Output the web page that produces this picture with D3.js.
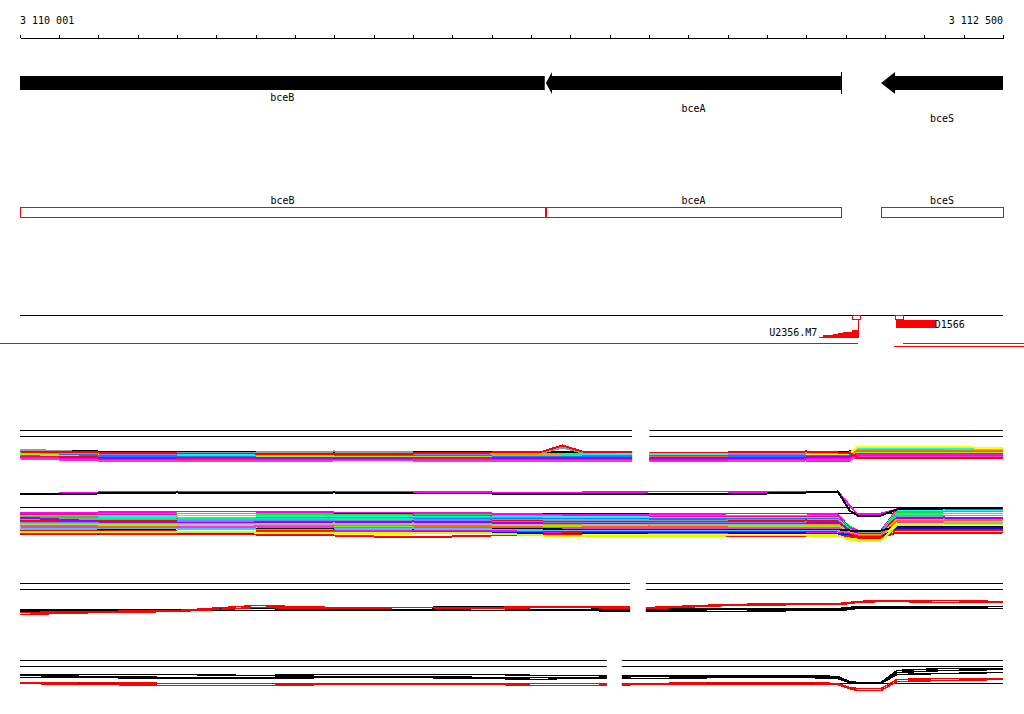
<!DOCTYPE html>
<html>
<head>
<meta charset="utf-8">
<script src="https://cdn.jsdelivr.net/npm/d3@7"></script>
<style>
  body { margin: 0; background: #fff; }
  svg { display: block; }
  text { font-family: "DejaVu Sans Mono", monospace; font-size: 10px; fill: #000; }
</style>
</head>
<body>
<div id="chart"></div>
<script>
// region on the chromosome
const regionStart = 3110001, regionEnd = 3112500;
const tickValues = d3.range(3110000, 3112501, 100);
const endLabels = ["3 110 001", "3 112 500"];

// genes (all on minus strand)
const geneNames = ["bceB", "bceA", "bceS"];
const geneStarts = [3110001, 3111338, 3112190];
const geneEnds = [3111335, 3112088, 3112500];
const geneEndInView = [false, true, false];

// probes
const probeNames = ["U2356.M7", "D1566"];
const probeStarts = [3112116, 3112225];
const probeEnds = [3112136, 3112245];
const rampStarts = [3112033, 3112043, 3112069, 3112081, 3112094, 3112117];
const rampEnd = 3112132;
const rampLevels = [1, 2, 3, 4, 5, 6];
const blockStart = 3112227, blockEnd = 3112329;
const targetStarts = [3109950, 3112245, 3112222];
const targetEnds = [3112132, 3112560, 3112560];

// expression profiles, sampled positions
const positions = [3110001, 3110200, 3110400, 3110600, 3110800, 3111000, 3111200, 3111330, 3111380, 3111430,
  3111600, 3111800, 3112000, 3112080, 3112110, 3112130, 3112190, 3112230, 3112350, 3112500];
const refLevels = [16, 13];
const panelGaps = [[3111557, 3111601], null, [3111552, 3111592], [3111493, 3111531]];

// panel 1
const p1Black = [6,5.5,5.5,5.5,5.5,5.5,5.5,5.5,5.5,5.5,5,5,5,5.5,5.5,6.5,6.5,6.5,6.5,6.5];
const p1Gray = [6.5,5,5,5,5.5,5,5,5,7.5,5,5,5,5,5,5,7,7,7,7,6.5];
const p1Spring = [5,4.5,4.5,4.5,4.5,4.5,4.5,4.5,4.5,4.5,4.5,4.5,4.5,4.5,4.5,7,7,7,7,7];
const p1Green = [4.5,4.5,4,4,4,4,4,3.5,3.5,3.5,4,4,4,3.5,3.5,6,6,6,6,5.5];
const p1Cyan = [3.5,4,4,3.5,3.5,4,3.5,3.5,3.5,3.5,4.5,4,4,4,4,7.5,7.5,7.5,7,6.5];
const p1Lilac = [4,4,3.5,3.5,3.5,4,4,3.5,3.5,3.5,3.5,3.5,4,4,4,5.5,5.5,5.5,5.5,5.5];
const p1Yellow = [3,3.5,3,3,3.5,3.5,3,3,3,3,3,3,3.5,4,4,8,8,8,8,7];
const p1Orange = [3.5,3,3.5,3.5,4,3.5,3.5,4,3.5,3.5,3.5,3,3,3.5,3.5,5.5,5.5,5.5,5,5];
const p1Orange2 = [3.5,3,3,3,3,3,3,3,3,3,3,3,3,3,3,6,6,6,6,5.5];
const p1Blue = [4,3.5,3,3,3,3.5,3,3,3,3,3.5,3.5,3.5,3.5,3.5,4.5,4.5,4.5,4.5,4.5];
const p1Lime = [4.5,2.5,2.5,2.5,3,3,2.5,2.5,2.5,2.5,2.5,2.5,2.5,3,3,5,5,5,5,5];
const p1Red2 = [3,2.5,2.5,2,2.5,2.5,2,2,2,2,2,2,2,2.5,2.5,2.5,2.5,2.5,2.5,2.5];
const p1Rose = [3,2,2,2,2,2,2,2,2,2,2,2,2,2.5,2.5,4.5,4.5,4.5,4.5,4];
const p1Purple = [2.5,2,2.5,2.5,2,2.5,2.5,2.5,2.5,2.5,2.5,2,2.5,3,3,4,4,4,4,4];
const p1Magenta = [2.5,1.5,1.5,1.5,1.5,1,1.5,1,1.5,1.5,1,1.5,1.5,2,2,3.5,3.5,3.5,3.5,3.5];
const p1Magenta2 = [2,1.5,1.5,1,1.5,1.5,1.5,1.5,1.5,1.5,1.5,1,1,1,1,4,4,4,4,4];
const p1Pink = [2,1,1,0.5,1,1,1,0.5,1,1,0.5,0.5,1,1.5,1.5,3,3,3,3,3];
const p1Red = [5.5,5,4.5,4.5,4.5,4.5,5,5.5,8.5,5.5,5,5,5.5,5,5,2.5,2.5,2.5,2.5,2.5];

// panel 2
const p2Black = [22.5,23,23.5,23,23.5,23,23,23,23,23,23,22.5,23.5,24,14.5,12,12,15,15.5,16];
const p2MagentaTop = [22.5,23.5,24,24,24,24,23.5,23.5,23.5,23.5,24,24,23.5,24,17,12.5,13,15,15.5,16];
const p2Green = [13.5,13.5,13,13,12.5,12.5,12,12,12,11.5,12,12,12,11.5,6.5,4.5,4,13.5,14,14.5];
const p2Magenta = [13,13.5,14,14,13.5,13.5,13,12.5,12.5,12.5,12.5,13,13,12.5,6,4.5,4.5,14.5,15,15];
const p2Rose = [12.5,12.5,12,12,11.5,12,11.5,11.5,11.5,11,11.5,11.5,11.5,11.5,6,4,4,15,15.5,15.5];
const p2Cyan = [12,11.5,12,12,12,11.5,11.5,11,11.5,11.5,11,11,11,11,5.5,4,4,14,14.5,14];
const p2Green3 = [11.5,11,10.5,10,10,10.5,11,10.5,10.5,10.5,10.5,10,10,10,5.5,4,3.5,13.5,14,14];
const p2Blue = [9.5,10.5,10.5,11,11,10.5,10.5,10.5,10.5,10.5,10,10.5,10.5,10.5,5.5,3.5,4,12.5,13,13];
const p2Spring = [10,10.5,11,10.5,10.5,10,9.5,9.5,10,10,9.5,9.5,9.5,10,5,3.5,3.5,12.5,13,13];
const p2Gray = [10.5,10,10,10,9.5,9.5,10,9.5,9.5,9.5,9.5,9,9,9.5,4.5,3,3.5,11.5,12,12];
const p2Red = [9,9.5,9.5,9,9,9,9.5,9,9,9,9,9,9.5,9,4.5,2.5,3,11,11,11];
const p2Lilac = [8.5,8.5,9,9.5,9.5,9.5,9,8.5,8.5,8.5,8.5,8.5,8.5,8,4,2.5,2.5,11,10.5,11];
const p2Purple = [11,9,8.5,8.5,8.5,9,8.5,8,8,8,8,8,8,8.5,4,3,3,10.5,11,10.5];
const p2Orange = [8,8,8,7.5,7.5,8,7.5,7.5,7.5,7.5,7,7,7.5,7.5,3.5,2.5,2.5,10,10,9.5];
const p2Gray2 = [6,7,7.5,7.5,8,7.5,7.5,7,7,7,7.5,7.5,7,7,3.5,2,2,9.5,8.5,8.5];
const p2Lime = [7.5,7.5,7,7,6.5,6.5,7,6.5,6.5,6.5,6.5,6.5,6.5,6.5,2.5,1.5,1.5,9.5,9,9];
const p2Orange2 = [7,6.5,6.5,6.5,7,7,6.5,6,6,6,6.5,6,6,6,3,2,2,9,9.5,10];
const p2Pink = [6.5,6,6,6.5,6,6,6,5.5,5.5,6,6,5.5,5.5,5.5,3,2,2,8.5,8,8];
const p2Black2 = [5.5,5,5.5,5.5,5,5,5.5,5.5,5,5,5,5,5,5,4.5,4,4.5,6.5,6.5,6.5];
const p2Sky = [5,5.5,5.5,5,5,5.5,5,4.5,4.5,4.5,4.5,4.5,4.5,4.5,2,1,1,8,8,7.5];
const p2Red2 = [4.5,4.5,4,4,4.5,4,4,4,3.5,4,4,4,4,3.5,2.5,1.5,1.5,5,5,4.5];
const p2Magenta2 = [4,3.5,3.5,4,4,4.5,4.5,3.5,3,3,3,3,3,3.5,1.5,0.5,0.5,6,5.5,6];
const p2Yellow = [3.5,3.5,3.5,3,2.5,3,3,3,2.5,2.5,2.5,2.5,2.5,3,1,0.5,0.5,8,7.5,7.5];
const p2Blue2 = [3,2.5,3,3.5,3.5,3.5,3.5,3,3,3,3.5,3.5,3,3,2,1,1,6,6,5.5];
const p2Red3 = [2.5,3,2.5,2.5,2,1,2,2.5,2.5,2,2,2,2,2,1.5,1,1,3.5,3,3.5];
const p2Chartreuse = [4,4,4,3.5,3.5,3.5,3,2,2,2,1.5,2,2,2,0,-0.5,-0.5,7,7.5,7.5];

// panel 3
const p3Black1 = [3,3,3,3.5,3.5,4,4.5,4.5,4,4,3,3.5,3.5,3.5,4,4.5,4.5,4.5,4.5,4.5];
const p3Black2 = [2.5,2.5,2.5,2.5,3,3,3.5,3,3,3,2.5,3,3,3,3.5,4,4,4,4,3.5];
const p3Black3 = [2,2,2.5,2.5,2.5,2.5,2.5,2.5,2.5,2.5,2,2,2.5,2.5,3,3.5,3.5,3.5,3.5,3.5];
const p3Red1 = [1.5,2,2.5,5,4,4,4,4.5,4.5,4.5,4,5.5,6,6,6.5,7,7.5,7.5,7.5,7];
const p3Red2 = [0.5,1.5,2,4,3.5,4,3.5,4,4,4,3.5,5,5.5,5.5,6,6.5,7,7,6.5,6.5];

// panel 4
const p4Black1 = [9,9,9,8.5,9,9,9,8.5,8.5,8.5,8.5,8.5,8.5,8,5.5,5,5,11,12,12];
const p4Black2 = [8.5,8,7.5,7.5,8,8,7.5,7.5,7.5,7.5,8,8,8,7.5,5,4.5,4.5,10,11,11.5];
const p4Black3 = [7.5,7.5,7,7,7.5,7.5,7,6.5,7,7,7,7.5,7.5,7,5,4.5,4.5,9,9.5,10];
const p4Black4 = [4.5,4.5,4.5,4.5,4.5,4.5,4.5,4.5,4.5,4.5,4.5,4.5,4.5,4.5,4.5,4.5,4.5,4.5,4.5,4.5];
const p4Red1 = [5,5,4.5,4.5,4.5,4.5,4.5,4.5,4.5,4.5,4.5,5,5,4.5,2.5,2,2,6.5,7,7];
const p4Red2 = [4.5,4,3.5,3.5,4,4,4,3.5,3.5,3.5,4,4,4,4,2,1,1,5.5,6,6.5];

const panels = [
  [["black", p1Black], ["gray", p1Gray], ["spring", p1Spring], ["green", p1Green], ["cyan", p1Cyan],
   ["lilac", p1Lilac], ["yellow", p1Yellow], ["orange", p1Orange], ["orange2", p1Orange2], ["blue", p1Blue],
   ["lime", p1Lime], ["red", p1Red2], ["rose", p1Rose], ["purple", p1Purple], ["magenta", p1Magenta],
   ["magenta", p1Magenta2], ["pink", p1Pink], ["red", p1Red]],
  [["green", p2Green], ["magenta", p2Magenta], ["rose", p2Rose], ["cyan", p2Cyan], ["green3", p2Green3],
   ["blue", p2Blue], ["spring", p2Spring], ["gray", p2Gray], ["red", p2Red], ["lilac", p2Lilac],
   ["purple", p2Purple], ["orange", p2Orange], ["gray2", p2Gray2], ["lime", p2Lime], ["orange2", p2Orange2],
   ["pink", p2Pink], ["black", p2Black2], ["sky", p2Sky], ["red", p2Red2], ["magenta", p2Magenta2],
   ["yellow", p2Yellow], ["blue2", p2Blue2], ["red", p2Red3], ["chartreuse", p2Chartreuse],
   ["magenta", p2MagentaTop], ["black", p2Black]],
  [["black", p3Black1], ["black", p3Black2], ["black", p3Black3], ["red", p3Red1], ["red", p3Red2]],
  [["black", p4Black4], ["black", p4Black1], ["black", p4Black2], ["black", p4Black3], ["red", p4Red1], ["red", p4Red2]]
];

const palette = {
  black: "#000000", gray: "#999999", gray2: "#b3b3b3", green: "#00ff00", green3: "#33cc33", spring: "#00ff80",
  cyan: "#00ffff", sky: "#33ccff", yellow: "#ffff00", orange: "#ff9900", orange2: "#ff6600",
  blue: "#0080ff", blue2: "#0000ff", lilac: "#8080ff", lime: "#80ff00", red: "#ff0000", rose: "#ff0080",
  purple: "#9900ff", magenta: "#ff00ff", pink: "#ff33cc", chartreuse: "#ccff00"
};

const width = 1024, height = 714;
const panelTop = [430, 507, 583, 660];
const panelStroke = [2, 2, 1.5, 1.5];

const svg = d3.select("#chart").append("svg")
  .attr("width", width)
  .attr("height", height);

const x = d3.scaleLinear().domain([regionStart, regionEnd]).range([20, 1003]);

// ---- ruler
const ruler = svg.append("g").attr("transform", "translate(0,38)");
ruler.call(d3.axisBottom(x).tickValues(tickValues).tickSize(3).tickSizeOuter(0).tickFormat(""));
ruler.call(d3.axisTop(x).tickValues(tickValues).tickSize(3).tickSizeOuter(0).tickFormat(""));
ruler.selectAll("path, line").attr("stroke", "#000").attr("shape-rendering", "crispEdges");

svg.append("text").attr("x", x(regionStart)).attr("y", 24).text(endLabels[0]);
svg.append("text").attr("x", x(regionEnd)).attr("y", 24).attr("text-anchor", "end").text(endLabels[1]);

// ---- gene arrows
const barH = 14, headH = 22, barTop = 76;
geneNames.forEach((name, i) => {
  const x0 = x(geneStarts[i]), x1 = x(geneEnds[i]);
  const mid = barTop + barH / 2;
  // a head squeezed against the previous gene is drawn short
  const prevEnd = i > 0 ? x(geneEnds[i - 1]) : -Infinity;
  const headL = x0 - prevEnd < 10 ? 6 : 14;
  let pts;
  if (geneStarts[i] > regionStart) {
    pts = [[x0, mid], [x0 + headL, mid - headH / 2], [x0 + headL, barTop], [x1, barTop],
      [x1, barTop + barH], [x0 + headL, barTop + barH], [x0 + headL, mid + headH / 2]];
  } else {
    pts = [[x0, barTop], [x1, barTop], [x1, barTop + barH], [x0, barTop + barH]];
  }
  svg.append("path").attr("d", d3.line()(pts) + "Z").attr("fill", "#000");
  if (geneEndInView[i]) {
    svg.append("line").attr("x1", Math.round(x1) + 0.5).attr("x2", Math.round(x1) + 0.5)
      .attr("y1", mid - headH / 2).attr("y2", mid + headH / 2)
      .attr("stroke", "#000").attr("shape-rendering", "crispEdges");
  }
  svg.append("text").attr("x", (x0 + x1) / 2).attr("y", 101 + i * 10.5)
    .attr("text-anchor", "middle").text(name);
});

// ---- gene boxes
geneNames.forEach((name, i) => {
  const x0 = Math.round(x(geneStarts[i])), x1 = Math.round(x(geneEnds[i]));
  svg.append("rect").attr("x", x0 + 0.5).attr("y", 207.5).attr("width", x1 - x0).attr("height", 10)
    .attr("fill", "none").attr("stroke", "#ff0000").attr("shape-rendering", "crispEdges");
  svg.append("text").attr("x", (x0 + x1) / 2).attr("y", 204).attr("text-anchor", "middle").text(name);
});

// ---- probe track
svg.append("line").attr("x1", x(regionStart)).attr("x2", x(regionEnd)).attr("y1", 315.5).attr("y2", 315.5)
  .attr("stroke", "#000").attr("shape-rendering", "crispEdges");
probeNames.forEach((name, i) => {
  svg.append("rect").attr("x", Math.round(x(probeStarts[i])) + 0.5).attr("y", 315.5)
    .attr("width", Math.round(x(probeEnds[i]) - x(probeStarts[i]))).attr("height", 4)
    .attr("fill", "none").attr("stroke", "#ff0000").attr("shape-rendering", "crispEdges");
});
// ramp under the first probe
const rampArea = d3.area().curve(d3.curveStepAfter)
  .x(d => x(d[0])).y0(338).y1(d => 338 - d[1] * 1.3);
const rampPts = rampStarts.map((s, i) => [s, rampLevels[i]]).concat([[rampEnd, rampLevels[rampLevels.length - 1]]]);
svg.append("path").attr("d", rampArea(rampPts)).attr("fill", "#ff0000").attr("shape-rendering", "crispEdges");
svg.append("line").attr("x1", Math.round(x(rampEnd)) + 0.5).attr("x2", Math.round(x(rampEnd)) + 0.5)
  .attr("y1", 320).attr("y2", 338).attr("stroke", "#ff0000").attr("shape-rendering", "crispEdges");
svg.append("text").attr("x", x(rampStarts[0]) - 2).attr("y", 336).attr("text-anchor", "end").text(probeNames[0]);
// block under the second probe
svg.append("rect").attr("x", x(blockStart)).attr("y", 320).attr("width", x(blockEnd) - x(blockStart)).attr("height", 8)
  .attr("fill", "#ff0000").attr("shape-rendering", "crispEdges");
svg.append("text").attr("x", x(blockEnd) - 1).attr("y", 328).text(probeNames[1]);
// target lines
targetStarts.forEach((s, i) => {
  const yy = i < 2 ? 343.5 : 346.5;
  svg.append("line").attr("x1", x(s)).attr("x2", x(targetEnds[i])).attr("y1", yy).attr("y2", yy)
    .attr("stroke", "#ff0000").attr("shape-rendering", "crispEdges");
});

// ---- expression panels
panels.forEach((series, p) => {
  const top = panelTop[p];
  const y = d3.scaleLinear().domain([0, 16]).range([top + 32.5, top + 0.5]);
  const g = svg.append("g");
  const gap = panelGaps[p];
  if (gap) {
    const clip = svg.append("clipPath").attr("id", "clip" + p);
    clip.append("rect").attr("x", 0).attr("y", 0).attr("width", x(gap[0])).attr("height", height);
    clip.append("rect").attr("x", x(gap[1])).attr("y", 0).attr("width", width - x(gap[1])).attr("height", height);
    g.attr("clip-path", "url(#clip" + p + ")");
  }
  refLevels.forEach(v => {
    g.append("line").attr("x1", x(regionStart)).attr("x2", x(regionEnd))
      .attr("y1", y(v)).attr("y2", y(v))
      .attr("stroke", "#000").attr("shape-rendering", "crispEdges");
  });
  const line = d3.line().x((d, i) => x(positions[i])).y(d => y(d));
  g.selectAll("path.profile").data(series).join("path")
    .attr("class", "profile")
    .attr("d", d => line(d[1]))
    .attr("fill", "none")
    .attr("stroke", d => palette[d[0]])
    .attr("stroke-width", panelStroke[p])
    .attr("shape-rendering", "crispEdges");
});
</script>
</body>
</html>
